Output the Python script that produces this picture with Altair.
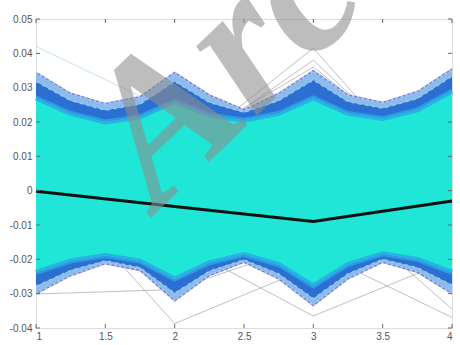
import altair as alt
import pandas as pd

# envelope grid (x positions where the band edges were read)
grid_x = [1, 1.25, 1.5, 1.75, 2, 2.25, 2.5, 2.75, 3, 3.25, 3.5, 3.75, 4]
outer_hi = [0.0345, 0.0284, 0.0254, 0.0274, 0.0345, 0.0279, 0.0236, 0.0284, 0.0350, 0.0279, 0.0257, 0.0289, 0.0355]
mid_hi   = [0.0318, 0.0262, 0.0234, 0.0252, 0.0318, 0.0257, 0.0228, 0.0262, 0.0322, 0.0259, 0.0240, 0.0268, 0.0333]
inner_hi = [0.0270, 0.0225, 0.0200, 0.0215, 0.0260, 0.0220, 0.0205, 0.0225, 0.0270, 0.0225, 0.0210, 0.0235, 0.0290]
inner_lo = [-0.0238, -0.0205, -0.0189, -0.0205, -0.0257, -0.0210, -0.0186, -0.0215, -0.0277, -0.0215, -0.0184, -0.0200, -0.0238]
mid_lo   = [-0.0278, -0.0232, -0.0204, -0.0224, -0.0298, -0.0234, -0.0201, -0.0242, -0.0314, -0.0242, -0.0200, -0.0224, -0.0275]
outer_lo = [-0.0301, -0.0248, -0.0213, -0.0233, -0.0321, -0.0248, -0.0209, -0.0257, -0.0335, -0.0257, -0.0209, -0.0238, -0.0300]

# individual outlying runs (values at x = 1, 2, 3, 4)
run_x = [1, 2, 3, 4]
outliers = {
    "o1": [0.0420, 0.0227, 0.0120, 0.0150],
    "o2": [0.0120, 0.0095, 0.0415, -0.0040],
    "o3": [0.0100, 0.0100, 0.0380, 0.0000],
    "o4": [0.0050, 0.0120, 0.0360, 0.0040],
    "o5": [-0.0301, -0.0288, -0.0150, -0.0100],
    "o6": [0.0060, -0.0387, -0.0220, -0.0100],
    "o7": [0.0000, -0.0050, -0.0174, -0.0369],
    "o8": [0.0100, 0.0050, 0.0010, -0.0345],
    "o9": [-0.0100, -0.0150, -0.0365, -0.0200],
}
outlier_colors = {"o1": "#a6dcd2"}

# mean run
mean_y = [-0.0002, -0.0046, -0.0090, -0.0030]

x_ticks = [1, 1.5, 2, 2.5, 3, 3.5, 4]
y_ticks = [-0.04, -0.03, -0.02, -0.01, 0, 0.01, 0.02, 0.03, 0.04, 0.05]

W, H = 416, 309

band = pd.DataFrame({
    "x": grid_x, "outer_hi": outer_hi, "mid_hi": mid_hi, "inner_hi": inner_hi,
    "inner_lo": inner_lo, "mid_lo": mid_lo, "outer_lo": outer_lo,
})
rows = []
for k, vals in outliers.items():
    for xv, yv in zip(run_x, vals):
        rows.append({"id": k, "x": xv, "y": yv, "c": outlier_colors.get(k, "#a4a4b2")})
out_df = pd.DataFrame(rows)
mean_df = pd.DataFrame({"x": run_x, "y": mean_y})
xt = pd.DataFrame({"x": x_ticks})
yt = pd.DataFrame({"y": y_ticks})

xs = alt.Scale(domain=[1, 4], nice=False, zero=False)
ys = alt.Scale(domain=[-0.04, 0.05], nice=False, zero=False)

lab = dict(labelFont="Liberation Sans", labelFontSize=10, labelColor="#555555",
           domain=False, ticks=False, grid=False, title=None, labelOverlap=False)
x_axis = alt.Axis(values=x_ticks, labelPadding=3, labelExpr="'' + datum.value", **lab)
y_axis = alt.Axis(values=y_ticks, labelPadding=4, labelExpr="'' + datum.value", **lab)


def XE(field="x"):
    return alt.X(f"{field}:Q", scale=xs, axis=x_axis)


def YE(field="y"):
    return alt.Y(f"{field}:Q", scale=ys, axis=y_axis)


lines_out = alt.Chart(out_df).mark_line(strokeWidth=1, opacity=0.7).encode(
    x=XE(), y=YE(), detail="id:N", color=alt.Color("c:N", scale=None))


def area(lo, hi, color, op=1.0):
    return alt.Chart(band).mark_area(color=color, opacity=op).encode(
        x=XE(), y=YE(lo), y2=f"{hi}:Q")


a_outer_up = area("mid_hi", "outer_hi", "#8dbcec")
a_outer_dn = area("outer_lo", "mid_lo", "#8dbcec")
a_mid_up = area("inner_hi", "mid_hi", "#2c6fd2")
a_mid_dn = area("mid_lo", "inner_lo", "#2c6fd2")
a_inner = area("inner_lo", "inner_hi", "#1fe6d6")


def edge(col, color, w, op, dash=None):
    kw = dict(color=color, strokeWidth=w, opacity=op)
    if dash:
        kw["strokeDash"] = dash
    return alt.Chart(band).mark_line(**kw).encode(x=XE(), y=YE(col))


e1 = edge("outer_hi", "#5e6cd0", 1.2, 0.85)
e2 = edge("outer_lo", "#5e6cd0", 1.2, 0.85)
e1b = edge("outer_hi", "#e8f2fc", 2, 0.6, [2, 3])
e2b = edge("outer_lo", "#e8f2fc", 2, 0.6, [2, 3])
e5 = edge("mid_hi", "#9fd8f4", 1.5, 0.7, [3, 4])
e6 = edge("mid_lo", "#9fd8f4", 1.5, 0.7, [3, 4])
e3 = edge("inner_hi", "#2aa8e6", 5, 0.8)
e4 = edge("inner_lo", "#2aa8e6", 5, 0.8)

mean_line = alt.Chart(mean_df).mark_line(color="#111111", strokeWidth=3).encode(
    x=XE(), y=YE())

tk = dict(color="#666666", strokeWidth=1)
xt_b = alt.Chart(xt).mark_rule(**tk).encode(x=XE(), y=alt.value(H), y2=alt.value(H - 4))
xt_t = alt.Chart(xt).mark_rule(**tk).encode(x=XE(), y=alt.value(0), y2=alt.value(4))
yt_l = alt.Chart(yt).mark_rule(**tk).encode(y=YE(), x=alt.value(0), x2=alt.value(4))
yt_r = alt.Chart(yt).mark_rule(**tk).encode(y=YE(), x=alt.value(W), x2=alt.value(W - 4))

wm = alt.Chart(pd.DataFrame({"t": ["Archive of SID"]})).mark_text(
    font="Liberation Serif", fontStyle="italic", fontWeight="bold", fontSize=200,
    angle=316, align="left", baseline="alphabetic", color="#8e8e8e", opacity=0.58,
).encode(text="t:N", x=alt.value(122), y=alt.value(192))

chart = alt.layer(
    lines_out, a_outer_up, a_outer_dn, e1, e2, e1b, e2b, a_mid_up, a_mid_dn, e5, e6,
    a_inner, e3, e4, mean_line, xt_b, xt_t, yt_l, yt_r, wm,
).properties(
    width=W, height=H,
    autosize=alt.AutoSizeParams(type="none"),
    padding={"left": 36, "top": 19, "right": 8, "bottom": 17},
).configure_view(stroke="#777777", strokeWidth=1).configure(background="white")

chart.save("out.html", embed_options={"renderer": "svg", "actions": False})
